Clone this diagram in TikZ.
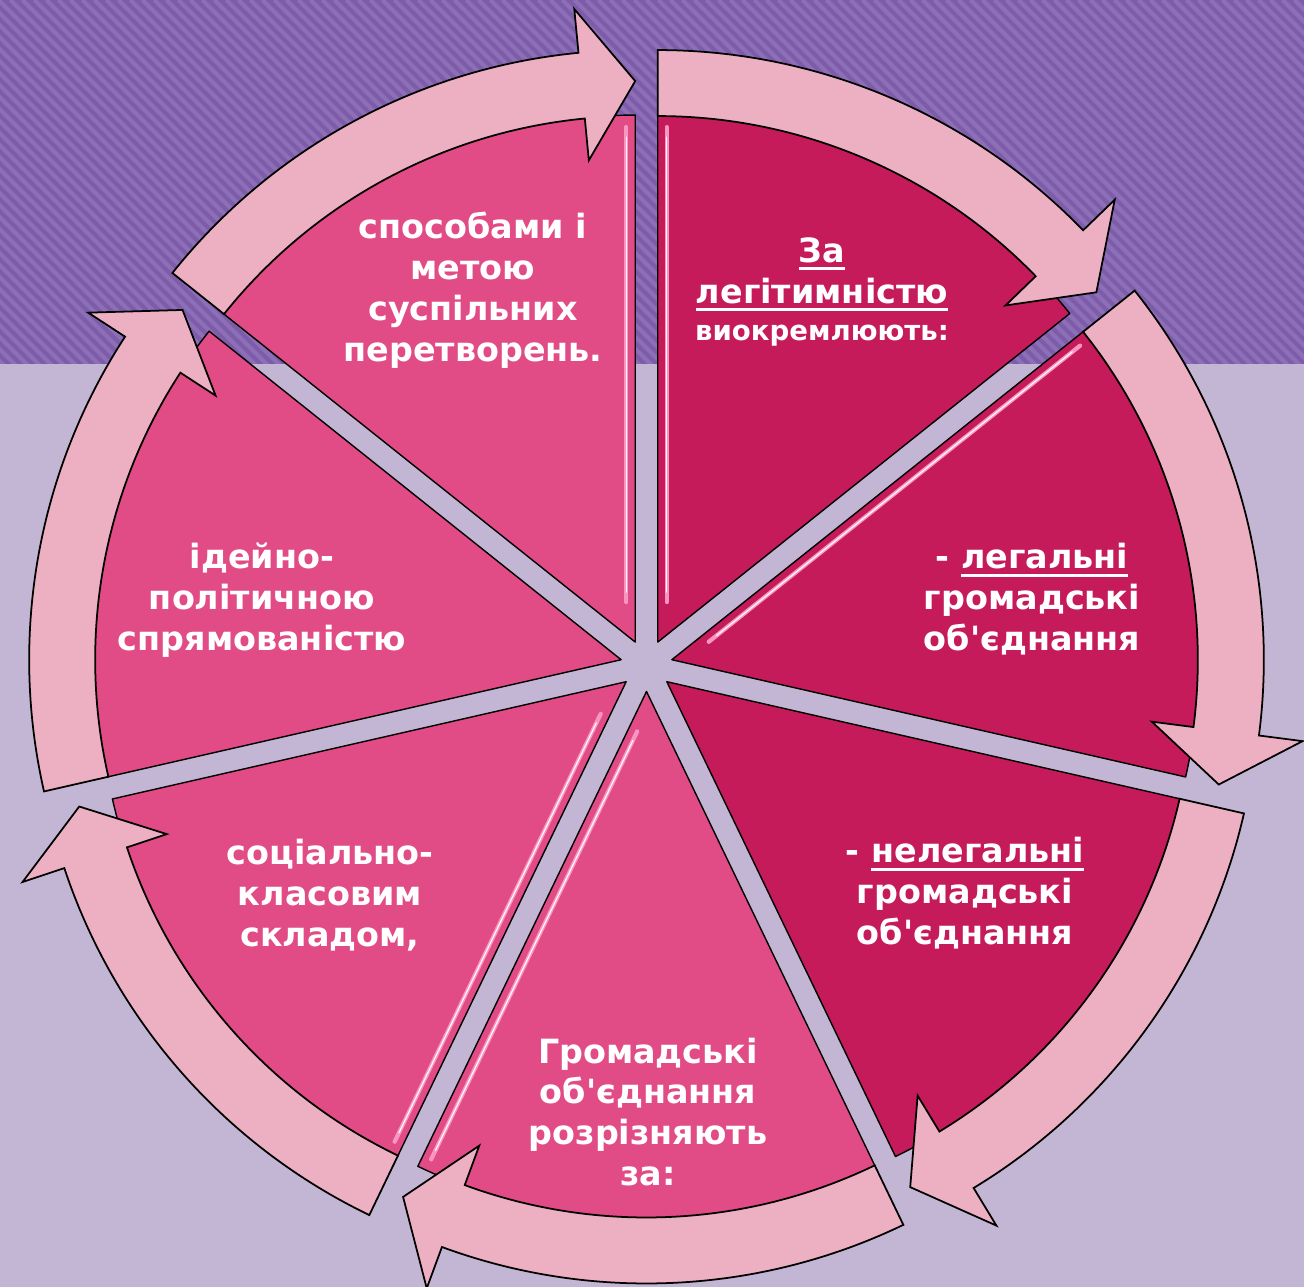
\documentclass[tikz,border=0pt]{standalone}
\usepackage{fontspec}
\setmainfont{DejaVu Sans}
\usepackage{tikz}
\definecolor{bgtop}{RGB}{125,93,170}
\definecolor{bgstripe}{RGB}{140,111,183}
\definecolor{bgbottom}{RGB}{195,182,212}
\definecolor{darkpink}{RGB}{198,27,91}
\definecolor{lightpink}{RGB}{226,76,134}
\definecolor{arrowpink}{RGB}{237,176,194}
\definecolor{glosspink}{RGB}{247,150,192}
\newcommand{\undl}[1]{\setbox0\hbox{#1}\rlap{\rule[-0.25em]{\wd0}{0.09em}}\box0}

\begin{document}
\begin{tikzpicture}[x=0.02cm, y=0.02cm,
  wedge/.style={draw=black, line width=0.8pt, line join=round},
  ringarrow/.style={fill=arrowpink, draw=black, line width=1pt},
  wtext/.style={text=white, font=\bfseries\fontsize{19}{23.3}\selectfont, align=center}]
\useasboundingbox (-646.5,-621.5) rectangle (657.5,665.5);
\fill[bgbottom] (-646.5,-621.5) rectangle (657.5,665.5);
\fill[bgtop] (-646.5,301.5) rectangle (657.5,665.5); % striped band
\begin{scope}
\clip (-646.5,301.5) rectangle (657.5,665.5);
\foreach \s in {-1020,-1008,...,672}
  \draw[bgstripe, line width=2.4pt] (\s,665.5) -- ++(400,-400);
\end{scope}

% seven wedges with their ring arrows
\foreach \k/\col in {0/darkpink,1/darkpink,2/darkpink,3/lightpink,4/lightpink,5/lightpink,6/lightpink} {
  \pgfmathsetmacro\aa{90-\k*360/7}
  \pgfmathsetmacro\ab{\aa-360/7}
  \pgfmathsetmacro\bis{\aa-180/7}
  \pgfmathsetmacro\ah{\ab+5.5}
  \begin{scope}[shift={(\bis:26)}]
    \filldraw[wedge, fill=\col] (0,0) -- (\aa:527) arc[start angle=\aa, end angle=\ab, radius=527] -- cycle;
    \filldraw[ringarrow] (\aa:592) arc[start angle=\aa, end angle=\ah, radius=592] -- (\ah:636) -- (\ab:561)
      -- (\ah:484) -- (\ah:526) arc[start angle=\ah, end angle=\aa, radius=526] -- cycle;
  \end{scope}
}

% gloss on some edges
\foreach \k/\side in {0/1,1/1,4/1,3/-1,6/-1} {
  \pgfmathsetmacro\aa{90-\k*360/7}
  \pgfmathsetmacro\ab{\aa-360/7}
  \pgfmathsetmacro\bis{\aa-180/7}
  \pgfmathsetmacro\rot{\side>0 ? \aa : \ab}
  \begin{scope}[shift={(\bis:26)}, rotate=\rot]
    \draw[glosspink, line width=2.4pt, line cap=round] (40,-9*\side) -- (515,-9*\side);
    \draw[white!85!pink, line width=0.7pt, line cap=round] (50,-9*\side) -- (505,-9*\side);
  \end{scope}
}

\node[wtext] (legit) at (175.5,373.5) {\undl{За}\\\undl{легітимністю}\\[-1.7pt]{\fontsize{15.7}{19}\selectfont виокремлюють:}};
\node[wtext] (legal) at (385.5,66.5) {- \undl{легальні}\\громадські\\об\textquotesingle єднання};
\node[wtext] (illegal) at (318.5,-227.5) {- \undl{нелегальні}\\громадські\\об\textquotesingle єднання};
\node[wtext] (basis) at (1.5,-446.5) {Громадські\\об\textquotesingle єднання\\розрізняють\\за:};
\node[wtext] (social) at (-316.5,-229.5) {соціально-\\класовим\\складом,};
\node[wtext] (ideol) at (-384.5,65.5) {ідейно-\\політичною\\спрямованістю};
\node[wtext] (aims) at (-173.5,375.5) {способами і\\метою\\суспільних\\перетворень.};
\end{tikzpicture}
\end{document}
